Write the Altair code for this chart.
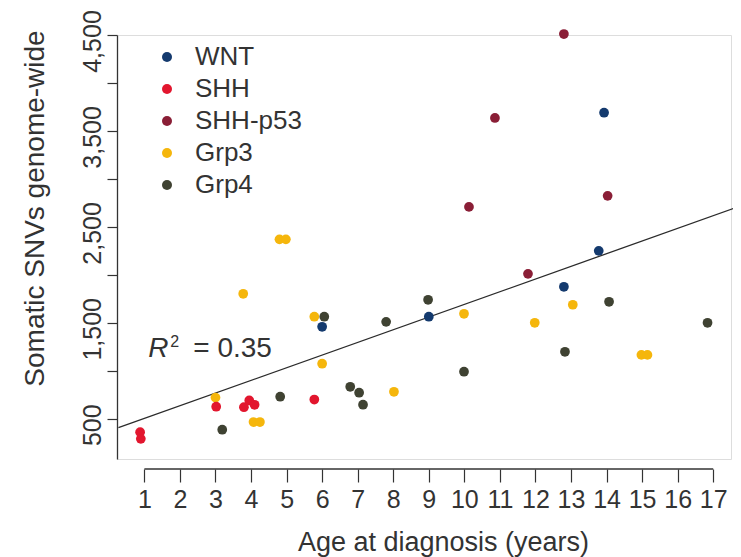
import altair as alt
import pandas as pd

groups = ["WNT", "SHH", "SHH-p53", "Grp3", "Grp4"]
colors = ["#143a6e", "#e2162e", "#8a1e36", "#f5b60c", "#3f4232"]

wnt_age = [13.93, 13.78, 12.8, 9.0, 6.0]
wnt_snv = [3690, 2250, 1875, 1563, 1458]

shh_age = [0.88, 0.9, 3.02, 3.8, 3.95, 4.1, 5.78]
shh_snv = [360, 290, 625, 620, 690, 645, 700]

p53_age = [12.8, 10.86, 14.03, 10.13, 11.79]
p53_snv = [4510, 3635, 2823, 2708, 2010]

grp3_age = [3.78, 4.8, 4.98, 5.78, 6.0, 3.0, 4.07, 4.25, 8.02, 9.99, 11.98, 13.05, 14.98, 15.15]
grp3_snv = [1802, 2370, 2370, 1563, 1073, 720, 465, 465, 781, 1594, 1500, 1688, 1165, 1165]

grp4_age = [3.19, 4.82, 6.06, 6.79, 7.04, 7.15, 7.8, 8.98, 9.99, 12.83, 14.07, 16.84]
grp4_snv = [385, 729, 1563, 833, 771, 646, 1510, 1740, 990, 1198, 1719, 1500]

# regression line end points
fit_age = [0.27, 17.69]
fit_snv = [406, 2708]

r2_age = [1.11]
r2_snv = [1146]

x_ticks = list(range(1, 18))
y_ticks = [500, 1000, 1500, 2000, 2500, 3000, 3500, 4000, 4500]

frames = []
for g, a, s in [("Grp3", grp3_age, grp3_snv), ("Grp4", grp4_age, grp4_snv),
                ("SHH-p53", p53_age, p53_snv), ("SHH", shh_age, shh_snv),
                ("WNT", wnt_age, wnt_snv)]:
    frames.append(pd.DataFrame({"group": g, "age": a, "snv": s}))
df = pd.concat(frames, ignore_index=True)

W, H = 614, 424
OFF = 10
TXT = "#333333"

xs = alt.Scale(domain=[0.23, 17.5], nice=False, zero=False)
ys = alt.Scale(domain=[80, 4500], nice=False, zero=False)

x_axis = alt.Axis(values=x_ticks, domain=False, offset=OFF, tickSize=13, tickWidth=1.2,
                  tickColor=TXT, labelFontSize=25, labelPadding=5, labelColor=TXT,
                  labelFlush=False, labelOverlap=False, grid=False,
                  title="Age at diagnosis (years)", titleFontSize=27, titleFontWeight="normal",
                  titleColor=TXT, titleX=326, titleY=81, titleAlign="center",
                  titleBaseline="alphabetic", titleAnchor="start")
y_axis = alt.Axis(values=y_ticks, domainColor=TXT, domainWidth=1.3, tickSize=10, tickWidth=1.2,
                  tickColor=TXT, labelFontSize=25, labelAngle=270, labelAlign="center",
                  labelBaseline="alphabetic", labelPadding=7, labelOffset=6, labelColor=TXT,
                  labelFlush=False, labelOverlap=False, grid=False,
                  labelExpr="datum.value % 1000 == 500 ? format(datum.value, ',') : ''",
                  title="Somatic SNVs genome-wide", titleFontSize=28, titleFontWeight="normal",
                  titleColor=TXT, titleAngle=270, titleX=-82, titleY=173, titleAlign="center",
                  titleBaseline="middle", titleAnchor="start")

points = alt.Chart(df).mark_circle(size=95, opacity=1).encode(
    x=alt.X("age:Q", scale=xs, axis=x_axis),
    y=alt.Y("snv:Q", scale=ys, axis=y_axis),
    color=alt.Color("group:N", scale=alt.Scale(domain=groups, range=colors),
                    legend=alt.Legend(title=None, orient="none", legendX=37, legendY=9,
                                      labelFontSize=26, labelColor=TXT, symbolSize=100,
                                      symbolType="circle", symbolStrokeWidth=0,
                                      labelOffset=15, rowPadding=6, padding=0)),
)

fit = alt.Chart(pd.DataFrame({"age": fit_age, "snv": fit_snv})).mark_line(
    color="#2b2b2b", strokeWidth=1.3).encode(
    x=alt.X("age:Q", scale=xs, axis=x_axis),
    y=alt.Y("snv:Q", scale=ys, axis=y_axis),
)

xline = alt.Chart(pd.DataFrame({"age": [x_ticks[0]], "age_end": [x_ticks[-1]]})).mark_rule(
    color=TXT, strokeWidth=1.3).encode(
    x=alt.X("age:Q", scale=xs, axis=x_axis),
    x2="age_end:Q",
    y=alt.value(H + OFF),
)

r2df = pd.DataFrame({"age": r2_age, "snv": r2_snv})
r_txt = alt.Chart(r2df).mark_text(text="R", fontStyle="italic", fontSize=28, align="left",
                                  baseline="alphabetic", color=TXT).encode(
    x=alt.X("age:Q", scale=xs, axis=x_axis), y=alt.Y("snv:Q", scale=ys, axis=y_axis))
sq_txt = alt.Chart(r2df).mark_text(text="2", fontSize=16, align="left", dx=22, dy=-10,
                                   baseline="alphabetic", color=TXT).encode(
    x=alt.X("age:Q", scale=xs, axis=x_axis), y=alt.Y("snv:Q", scale=ys, axis=y_axis))
eq_txt = alt.Chart(r2df).mark_text(text="= 0.35", fontSize=28, align="left", dx=45,
                                   baseline="alphabetic", color=TXT).encode(
    x=alt.X("age:Q", scale=xs, axis=x_axis), y=alt.Y("snv:Q", scale=ys, axis=y_axis))

chart = alt.layer(fit, xline, points, r_txt, sq_txt, eq_txt).properties(
    width=W, height=H,
    padding={"left": 109, "top": 27, "right": 2, "bottom": 98},
    autosize=alt.AutoSizeParams(type="none"),
).configure_view(stroke=None).configure(font="Liberation Sans")

chart.save("out.html", embed_options={"renderer": "svg", "actions": False})
